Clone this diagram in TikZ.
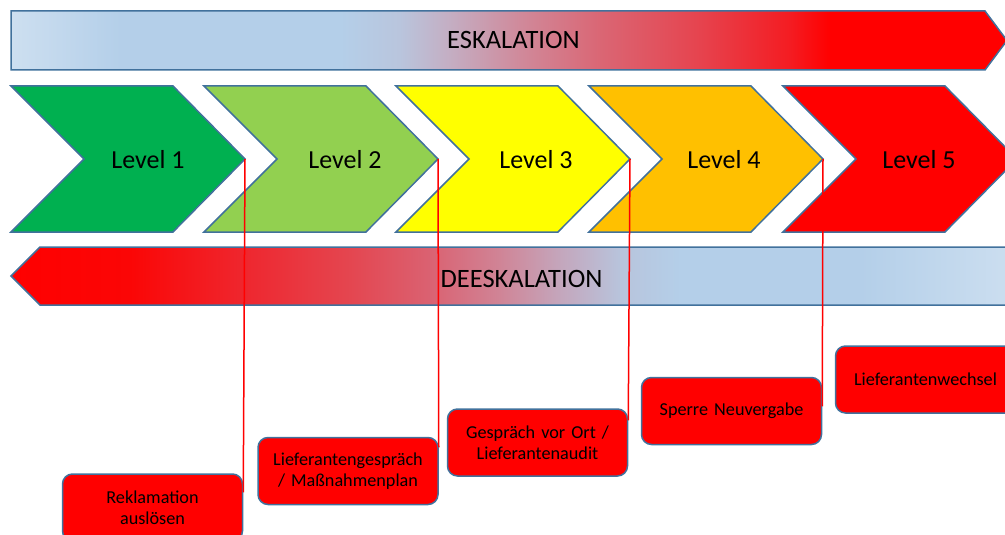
\documentclass[tikz,border=0pt]{standalone}
\usepackage{fontspec}
\setmainfont{Carlito}
\usetikzlibrary{calc}
\definecolor{outl}{HTML}{41719C}
\definecolor{lvA}{HTML}{00B050}
\definecolor{lvB}{HTML}{92D050}
\definecolor{lvC}{HTML}{FFFF00}
\definecolor{lvD}{HTML}{FFC000}
\definecolor{lvE}{HTML}{FF0000}
\definecolor{bluA}{HTML}{CDDFF0}
\definecolor{bluB}{HTML}{B4CFE9}
\definecolor{mixA}{HTML}{B9C5DD}
\definecolor{mixB}{HTML}{C4AEC3}
\definecolor{mixC}{HTML}{D0899A}
\definecolor{mixD}{HTML}{DA6674}
\definecolor{mixE}{HTML}{E6434E}
\definecolor{mixF}{HTML}{F41C22}
\definecolor{pureR}{HTML}{FF0000}
\definecolor{dmA}{HTML}{FB0606}
\definecolor{dmB}{HTML}{EE2830}
\definecolor{dmC}{HTML}{E44650}
\definecolor{dmD}{HTML}{DA6272}
\definecolor{dmE}{HTML}{D08496}
\definecolor{dmF}{HTML}{C4A6BC}
\definecolor{dmG}{HTML}{B8C4DC}
\pgfdeclarehorizontalshading{eskshade}{100bp}{color(0bp)=(bluA); color(25bp)=(bluA); color(30.5bp)=(bluB); color(41.5bp)=(bluB); color(44.5bp)=(mixA); color(47bp)=(mixB); color(50.6bp)=(mixC); color(54.6bp)=(mixD); color(59.6bp)=(mixE); color(64.1bp)=(mixF); color(66.1bp)=(pureR); color(75bp)=(pureR); color(100bp)=(pureR)}
\pgfdeclarehorizontalshading{deskshade}{100bp}{color(0bp)=(pureR); color(25bp)=(pureR); color(30.9bp)=(dmA); color(36.8bp)=(dmB); color(41.8bp)=(dmC); color(45.8bp)=(dmD); color(49.2bp)=(dmE); color(52.2bp)=(dmF); color(55.2bp)=(dmG); color(58.2bp)=(bluB); color(67.1bp)=(bluB); color(75bp)=(bluA); color(100bp)=(bluA)}
\begin{document}
\begin{tikzpicture}[x=1pt,y=-1pt,
  outline/.style={draw=outl, line width=1.5pt, line join=miter},
  bartext/.style={font=\fontsize{26.5}{30}\selectfont, text=black, inner sep=0pt},
  lvltext/.style={font=\fontsize{26}{30}\selectfont, text=black, inner sep=0pt},
  actbox/.style={draw=outl, line width=1.5pt, fill=lvE, rounded corners=10pt,
    minimum width=180pt, minimum height=67pt, text width=176pt, align=center,
    inner sep=0pt, font=\fontsize{18.2}{21.5}\selectfont, text=black},
  redline/.style={draw=red, line width=1.5pt}]
\useasboundingbox (0,0) rectangle (1005,535);
\clip (0,0) rectangle (1005,535);
% escalation bar
\shadedraw[outline, shading=eskshade] (11,11) -- (985,11) -- (1007,40.5) -- (985,70) -- (11,70) -- cycle;
\node[bartext] (esk) at (513.5,39.5) {ESKALATION};
% chevrons
\draw[outline, fill=lvA] (11,86) -- (173,86) -- (245,159) -- (173,232) -- (11,232) -- (84,159) -- cycle;
\draw[outline, fill=lvB] (204,86) -- (366,86) -- (438,159) -- (366,232) -- (204,232) -- (277,159) -- cycle;
\draw[outline, fill=lvC] (396,86) -- (558,86) -- (630,159) -- (558,232) -- (396,232) -- (469,159) -- cycle;
\draw[outline, fill=lvD] (589,86) -- (751,86) -- (823,159) -- (751,232) -- (589,232) -- (662,159) -- cycle;
\draw[outline, fill=lvE] (783,86) -- (945,86) -- (1017,159) -- (945,232) -- (783,232) -- (856,159) -- cycle;
\node[lvltext] (lv1) at (148,160) {Level 1};
\node[lvltext] (lv2) at (345,160) {Level 2};
\node[lvltext] (lv3) at (536,160) {Level 3};
\node[lvltext] (lv4) at (724,160) {Level 4};
\node[lvltext] (lv5) at (919,160) {Level 5};
\coordinate (t1) at (245,159);
\coordinate (t2) at (438,159);
\coordinate (t3) at (630,159);
\coordinate (t4) at (823,159);
% de-escalation bar
\shadedraw[outline, shading=deskshade] (1020,247) -- (40,247) -- (11,276) -- (40,305) -- (1020,305) -- cycle;
\node[bartext] (desk) at (521.5,278.5) {DEESKALATION};
% action boxes
\node[actbox] (b1) at (152.5,507.5) {Reklamation\\auslösen};
\node[actbox] (b2) at (348,471) {Lieferantengespräch\\/ Maßnahmenplan};
\node[actbox] (b3) at (537.5,442.5) {Gespräch vor Ort /\\Lieferantenaudit};
\node[actbox] (b4) at (731.5,411) {Sperre Neuvergabe};
\node[actbox] (b5) at (925.5,379.5) {Lieferantenwechsel};
% connectors
\draw[redline] (t1) -- ($(b1.north east)+(0,19)$);
\draw[redline] (t2) -- ($(b2.north east)+(0,10.5)$);
\draw[redline] (t3) -- ($(b3.north east)+(0,12)$);
\draw[redline] (t4) -- ($(b4.north east)+(0,29.5)$);
\end{tikzpicture}
\end{document}
